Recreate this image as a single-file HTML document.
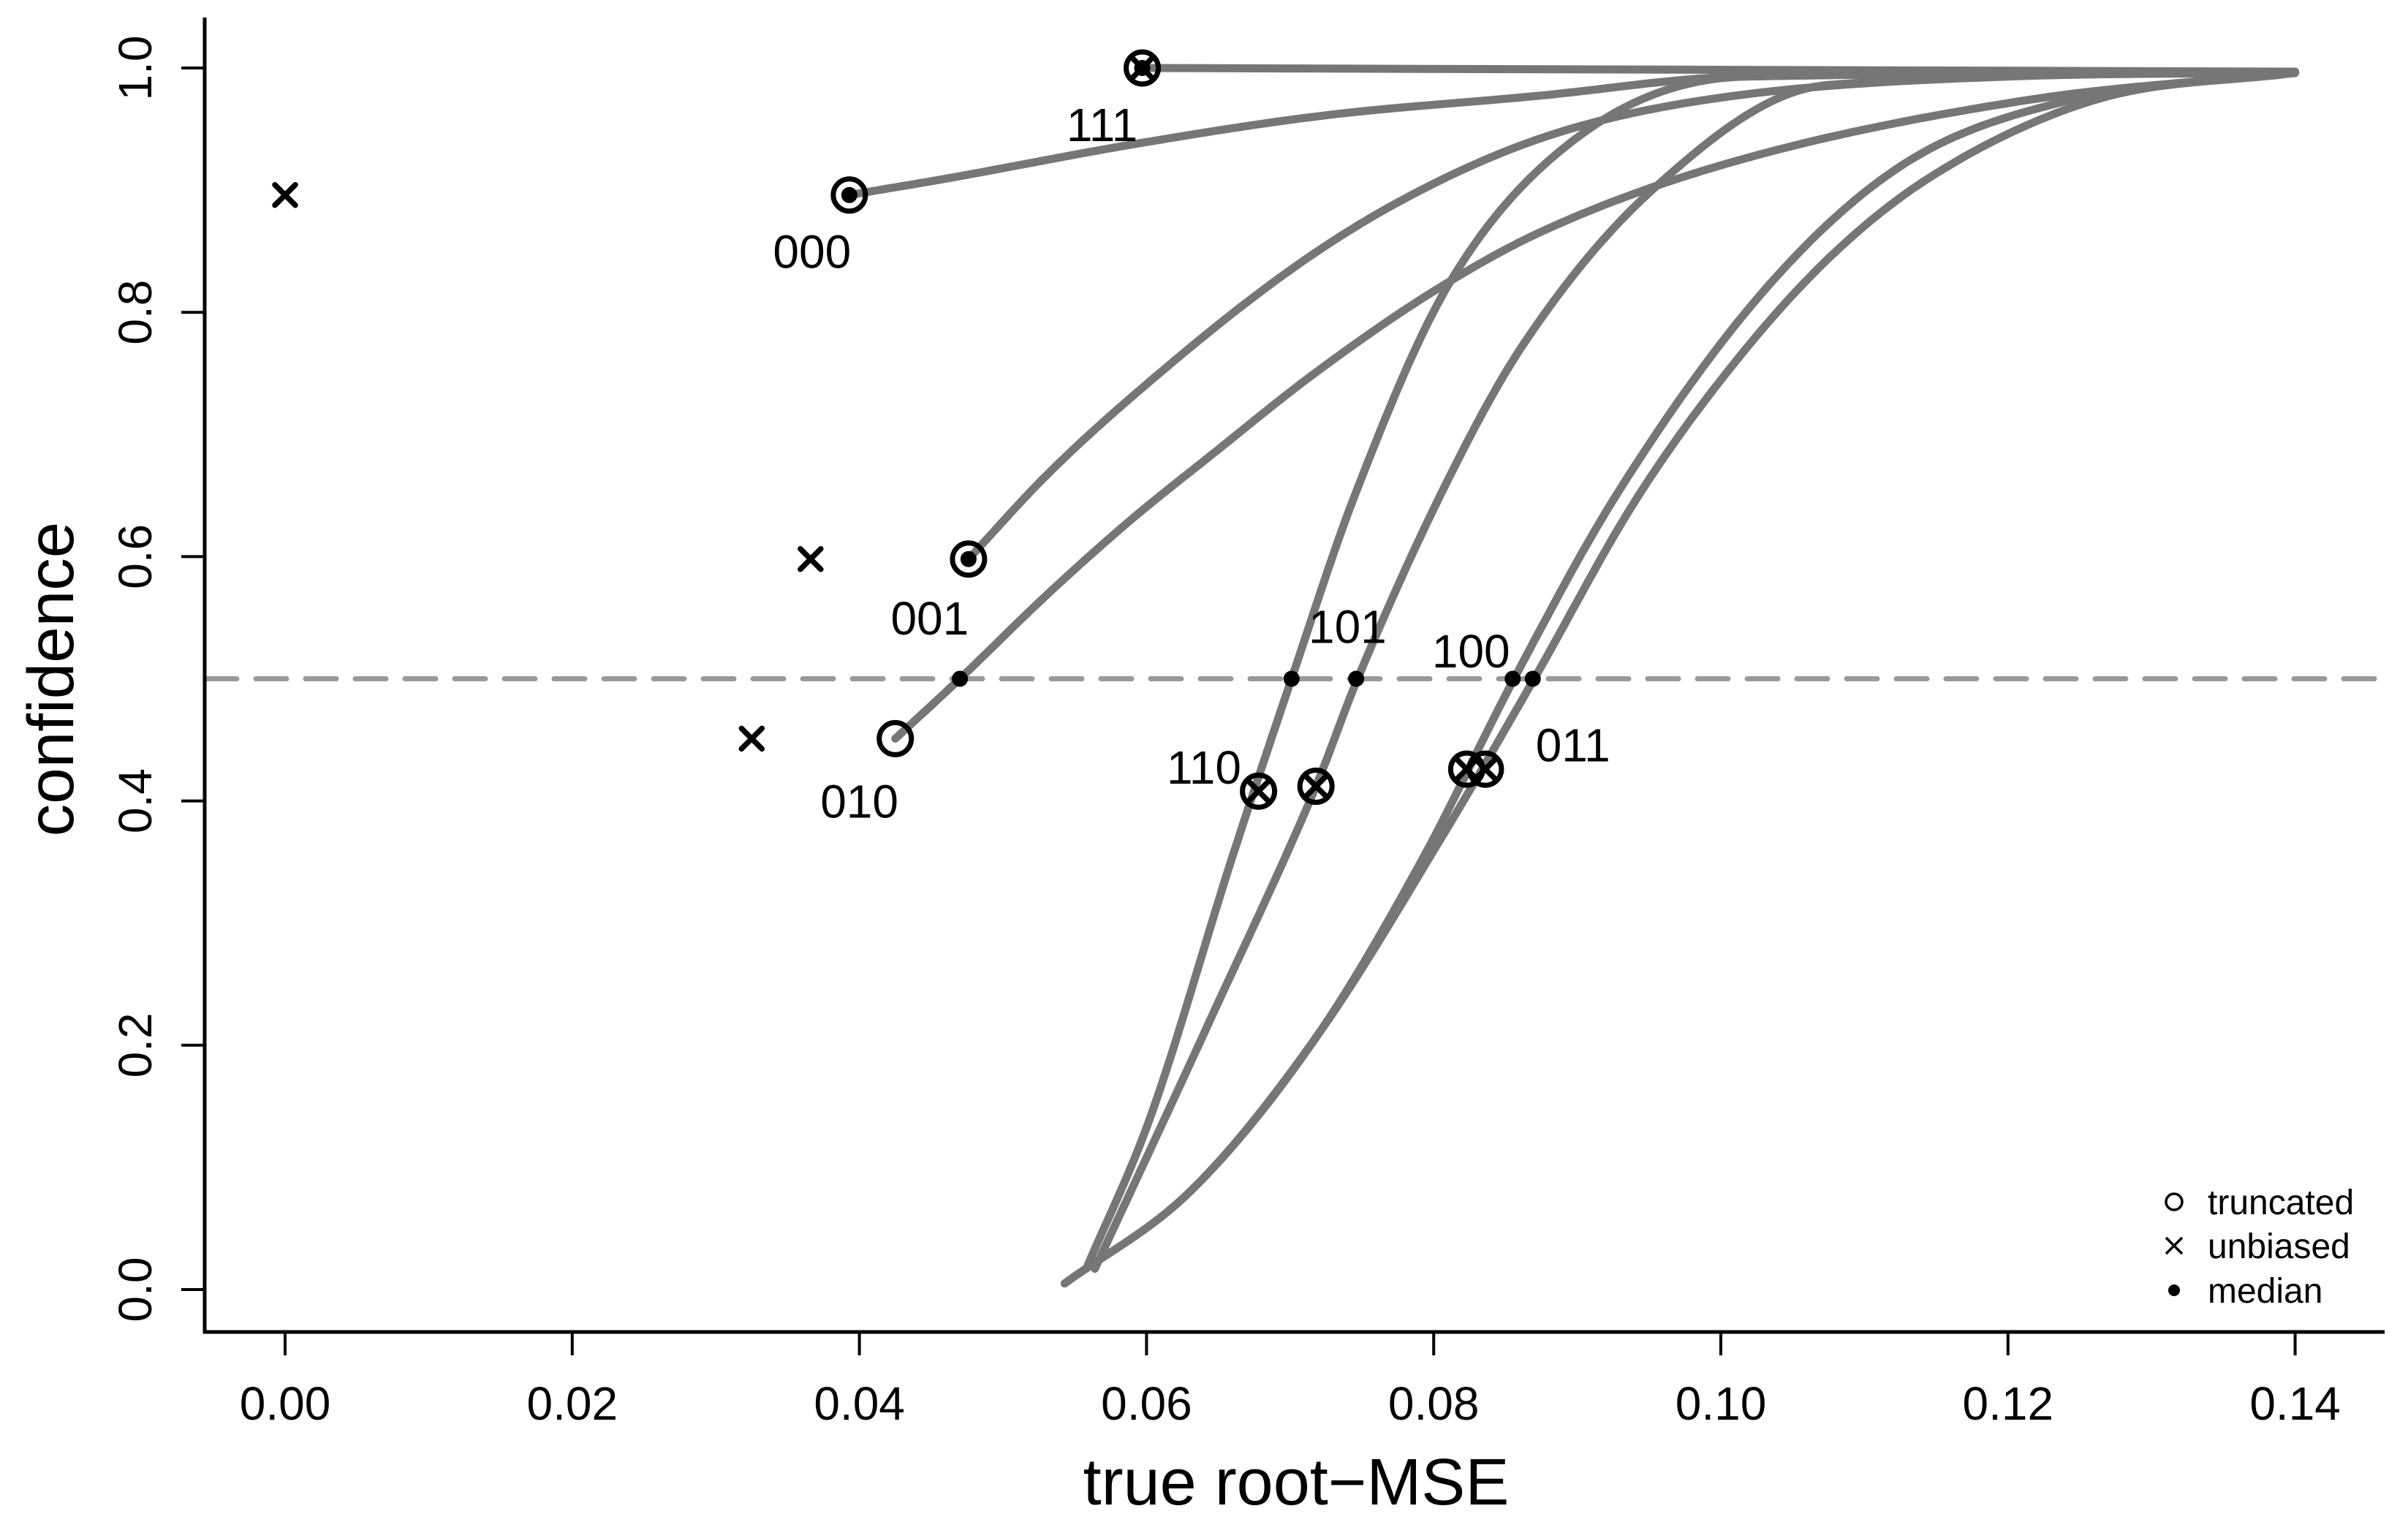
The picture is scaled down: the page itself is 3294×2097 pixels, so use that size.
<!DOCTYPE html>
<html>
<head>
<meta charset="utf-8">
<style>
html,body{margin:0;padding:0;background:#fff;}
svg{display:block;}
text{font-family:"Liberation Sans",Arial,sans-serif;fill:#000;}
</style>
</head>
<body>
<svg id="chart" width="3294" height="2097" viewBox="0 0 3294 2097" xmlns="http://www.w3.org/2000/svg">
  <rect x="0" y="0" width="3294" height="2097" fill="#fff"/>
  <g id="curves"></g>
  <g id="refline"></g>
  <g id="markers"></g>
  <g id="labels"></g>
  <g id="axes"></g>
  <g id="legend"></g>
</svg>
<script>
// ---- data ----
const xTicks = [0.00, 0.02, 0.04, 0.06, 0.08, 0.10, 0.12, 0.14];
const xTickLabels = ["0.00","0.02","0.04","0.06","0.08","0.10","0.12","0.14"];
const yTicks = [0.0, 0.2, 0.4, 0.6, 0.8, 1.0];
const yTickLabels = ["0.0","0.2","0.4","0.6","0.8","1.0"];
const referenceLevel = 0.5;

const seriesNames = ["000","001","010","011","100","101","110","111"];

const curve000x = [0.0393,0.0463,0.0593,0.0723,0.0871,0.1015,0.14];
const curve000y = [0.896,0.910,0.938,0.961,0.977,0.993,0.996];
const curve001x = [0.0476,0.0529,0.0587,0.0697,0.0775,0.0871,0.0979,0.12,0.14];
const curve001y = [0.598,0.665,0.728,0.832,0.890,0.941,0.972,0.993,0.996];
const curve010x = [0.0425,0.047,0.0529,0.0587,0.0646,0.0717,0.0801,0.0875,0.1005,0.1215,0.14];
const curve010y = [0.451,0.5,0.567,0.628,0.684,0.750,0.818,0.866,0.922,0.974,0.996];
const curve011x = [0.0543,0.0631,0.0719,0.0807,0.087,0.094,0.1005,0.1074,0.1145,0.1261,0.14];
const curve011y = [0.005,0.081,0.208,0.373,0.5,0.645,0.752,0.843,0.910,0.974,0.996];
const curve100x = [0.0543,0.0631,0.0719,0.0792,0.0856,0.0927,0.1031,0.1127,0.1244,0.14];
const curve100y = [0.005,0.081,0.208,0.352,0.5,0.650,0.819,0.921,0.974,0.996];
const curve101x = [0.0564,0.0646,0.0718,0.0747,0.081,0.0862,0.0953,0.1074,0.14];
const curve101y = [0.017,0.225,0.412,0.5,0.663,0.773,0.901,0.986,0.996];
const curve110x = [0.0558,0.0602,0.066,0.0701,0.0745,0.081,0.0901,0.1018,0.14];
const curve110y = [0.017,0.139,0.355,0.5,0.650,0.822,0.944,0.993,0.996];
const curve111x = [0.0597,0.14];
const curve111y = [1.0,0.997];

const truncX = [0.0393,0.0476,0.0425,0.0836,0.0823,0.0718,0.0678,0.0597];
const truncY = [0.896,0.598,0.451,0.426,0.426,0.412,0.408,1.0];
const unbiasedX = [0.0,0.0366,0.0325,0.0836,0.0823,0.0718,0.0678,0.0597];
const unbiasedY = [0.896,0.598,0.451,0.426,0.426,0.412,0.408,1.0];
const medianX = [0.0393,0.0476,0.047,0.0869,0.0855,0.0746,0.0701,0.0597];
const medianY = [0.896,0.598,0.5,0.5,0.5,0.5,0.5,1.0];
const labelX = [0.0367,0.0449,0.0400,0.0897,0.0826,0.0740,0.0640,0.0569];
const labelY = [0.850,0.550,0.400,0.446,0.523,0.543,0.428,0.954];

const legendLabels = ["truncated","unbiased","median"];

// ---- scales ----
const X = v => 390 + v * 19640;
const Y = v => 1764 - v * 1671;
const NS = "http://www.w3.org/2000/svg";
function mk(tag, attrs, parent){
  const el = document.createElementNS(NS, tag);
  for (const k in attrs) el.setAttribute(k, attrs[k]);
  parent.appendChild(el);
  return el;
}
// monotone cubic (Fritsch-Carlson) interpolation through the data points
function monotonePath(xs, ys){
  const n = xs.length;
  if (n < 3) return "M"+xs.map((x,i)=>X(x)+","+Y(ys[i])).join(" L");
  const d = [], m = new Array(n);
  for (let i=0;i<n-1;i++) d.push((ys[i+1]-ys[i])/(xs[i+1]-xs[i]));
  m[0]=d[0]; m[n-1]=d[n-2];
  for (let i=1;i<n-1;i++) m[i] = (d[i-1]*d[i]<=0)?0:(d[i-1]+d[i])/2;
  for (let i=0;i<n-1;i++){
    if (d[i]===0){m[i]=0;m[i+1]=0;continue;}
    const a=m[i]/d[i], b=m[i+1]/d[i], s=a*a+b*b;
    if (s>9){const t=3/Math.sqrt(s); m[i]=t*a*d[i]; m[i+1]=t*b*d[i];}
  }
  let path = "M"+X(xs[0])+","+Y(ys[0]);
  for (let i=0;i<n-1;i++){
    const h = xs[i+1]-xs[i];
    for (let k=1;k<=24;k++){
      const t=k/24, t2=t*t, t3=t2*t;
      const v = (2*t3-3*t2+1)*ys[i] + (t3-2*t2+t)*h*m[i] + (-2*t3+3*t2)*ys[i+1] + (t3-t2)*h*m[i+1];
      path += " L"+X(xs[i]+t*h).toFixed(1)+","+Y(v).toFixed(1);
    }
  }
  return path;
}

// ---- curves ----
const curves = document.getElementById("curves");
const curveXs = [curve000x,curve001x,curve010x,curve011x,curve100x,curve101x,curve110x,curve111x];
const curveYs = [curve000y,curve001y,curve010y,curve011y,curve100y,curve101y,curve110y,curve111y];
curveXs.forEach((xs,i)=>{
  const path = mk("path",{d:monotonePath(xs,curveYs[i]),fill:"none",stroke:"#767676","stroke-width":11,"stroke-linecap":"round","stroke-linejoin":"round"},curves);
  
  
});

// ---- reference dashed line ----
const rl = mk("line",{x1:282,x2:3262,y1:Y(referenceLevel),y2:Y(referenceLevel),stroke:"#999","stroke-width":7,"stroke-dasharray":"42 26","stroke-linecap":"round"},document.getElementById("refline"));



// ---- markers ----
const markers = document.getElementById("markers");
truncX.forEach((x,i)=>{
  const c = mk("circle",{cx:X(x),cy:Y(truncY[i]),r:22,fill:"none",stroke:"#000","stroke-width":7},markers);
  
  
});
unbiasedX.forEach((x,i)=>{
  const cx = X(x), cy = Y(unbiasedY[i]), s = 14;
  const g = mk("path",{d:`M${cx-s},${cy-s} L${cx+s},${cy+s} M${cx-s},${cy+s} L${cx+s},${cy-s}`,stroke:"#000","stroke-width":7.5,"stroke-linecap":"round",fill:"none"},markers);
  
  
});
medianX.forEach((x,i)=>{
  const c = mk("circle",{cx:X(x),cy:Y(medianY[i]),r:11,fill:"#000"},markers);
  
  
});

// ---- point labels ----
const labels = document.getElementById("labels");
labelX.forEach((x,i)=>{
  const t = mk("text",{x:X(x),y:Y(labelY[i])+23,"font-size":64,"text-anchor":"middle"},labels);
  t.textContent = seriesNames[i];
  
  
});

// ---- axes ----
const axes = document.getElementById("axes");
const yAxis = mk("line",{x1:280,x2:280,y1:24,y2:1824,stroke:"#000","stroke-width":5},axes);


const xAxis = mk("line",{x1:278,x2:3262,y1:1822,y2:1822,stroke:"#000","stroke-width":5},axes);


xTicks.forEach((v,i)=>{
  const tk = mk("line",{x1:X(v),x2:X(v),y1:1822,y2:1854,stroke:"#000","stroke-width":4},axes);
  
  
  const t = mk("text",{x:X(v),y:1942,"font-size":64,"text-anchor":"middle"},axes);
  t.textContent = xTickLabels[i];
  
  
});
yTicks.forEach((v,i)=>{
  const tk = mk("line",{x1:248,x2:280,y1:Y(v),y2:Y(v),stroke:"#000","stroke-width":4},axes);
  
  
  const t = mk("text",{x:0,y:0,"font-size":64,"text-anchor":"middle",transform:`translate(207,${Y(v)}) rotate(-90)`},axes);
  t.textContent = yTickLabels[i];
  
  
});
const xt = mk("text",{x:1773,y:2058,"font-size":90,"text-anchor":"middle"},axes);
xt.textContent = "true root\u2212MSE";


const yt = mk("text",{x:0,y:0,"font-size":89,"text-anchor":"middle",transform:"translate(100,929) rotate(-90)"},axes);
yt.textContent = "confidence";



// ---- legend ----
const legend = document.getElementById("legend");
const legY = [1644,1704,1765];
const lc = mk("circle",{cx:2974,cy:legY[0],r:11,fill:"none",stroke:"#000","stroke-width":3.5},legend);


const lx = mk("path",{d:`M2963,${legY[1]-11} L2985,${legY[1]+11} M2963,${legY[1]+11} L2985,${legY[1]-11}`,stroke:"#000","stroke-width":3.5,fill:"none"},legend);


const ld = mk("circle",{cx:2974,cy:legY[2],r:8,fill:"#000"},legend);


legendLabels.forEach((s,i)=>{
  const t = mk("text",{x:3020,y:legY[i]+17,"font-size":48},legend);
  t.textContent = s;
  
  
});
</script>
</body>
</html>
